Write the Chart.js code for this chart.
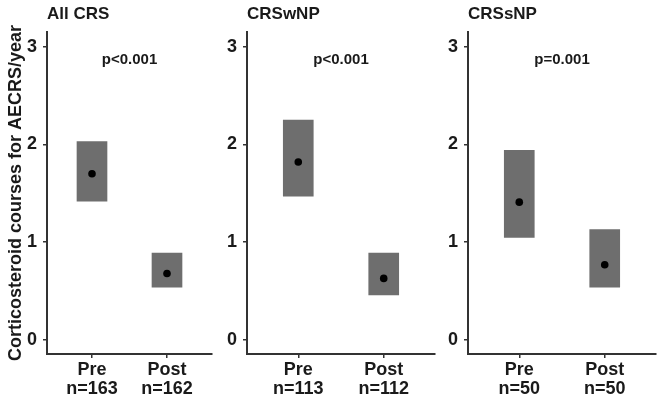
<!DOCTYPE html>
<html>
<head>
<meta charset="utf-8">
<script src="https://cdn.jsdelivr.net/npm/chart.js@4.4.1/dist/chart.umd.min.js"></script>
<style>
  html, body { margin: 0; padding: 0; background: #fff; }
  #wrap { position: relative; width: 660px; height: 406px; overflow: hidden; }
  #wrap canvas { position: absolute; top: 0; }
</style>
</head>
<body>
<div id="wrap">
  <canvas id="panel0" width="216" height="406" style="left:0px"></canvas>
  <canvas id="panel1" width="219" height="406" style="left:220px"></canvas>
  <canvas id="panel2" width="219" height="406" style="left:441px"></canvas>
</div>
<script>
// --- data ---
const groups = ['All CRS', 'CRSwNP', 'CRSsNP'];
const periods = ['Pre', 'Post'];
const sampleSizes = [[163, 162], [113, 112], [50, 50]];
const meanValues = [[1.70, 0.68], [1.82, 0.63], [1.41, 0.77]];
const lowerValues = [[1.42, 0.54], [1.47, 0.46], [1.05, 0.54]];
const upperValues = [[2.03, 0.89], [2.25, 0.89], [1.94, 1.13]];
const pValues = ['p<0.001', 'p<0.001', 'p=0.001'];
const yTicks = [0, 1, 2, 3];
const yTitle = 'Corticosteroid courses for AECRS/year';

const FONT = "'Liberation Sans', Arial, sans-serif";
const INK = '#1a1a1a';
const AXIS = '#333333';

// y-axis widths per panel (the first one carries the axis title)
const axisWidths = [47, 27, 27];
const rightPads = [3, 3, 1];

const panelText = {
    id: 'panelText',
    afterDraw(chart, args, opts) {
        const ctx = chart.ctx;
        const area = chart.chartArea;
        ctx.save();
        ctx.fillStyle = INK;
        ctx.textBaseline = 'middle';
        ctx.font = 'bold 17px ' + FONT;
        ctx.textAlign = 'left';
        ctx.fillText(opts.title, area.left, 14);
        ctx.font = 'bold 15px ' + FONT;
        ctx.textAlign = 'center';
        ctx.fillText(opts.pText, (area.left + area.right) / 2, chart.scales.y.getPixelForValue(2.87));
        ctx.restore();
    }
};

groups.forEach((name, g) => {
    const ctx = document.getElementById('panel' + g);
    const ranges = periods.map((p, i) => ({ x: i + 1, y: [lowerValues[g][i], upperValues[g][i]] }));
    const means = periods.map((p, i) => ({ x: i + 1, y: meanValues[g][i] }));

    new Chart(ctx, {
        type: 'bar',
        data: {
            datasets: [
                {
                    type: 'scatter',
                    data: means,
                    backgroundColor: '#000',
                    borderColor: '#000',
                    pointRadius: 3.8,
                    borderWidth: 0,
                    order: 0
                },
                {
                    data: ranges,
                    backgroundColor: '#6e6e6e',
                    borderWidth: 0,
                    barThickness: 30,
                    order: 1
                }
            ]
        },
        options: {
            responsive: false,
            animation: false,
            devicePixelRatio: 1,
            layout: { padding: { top: 32, right: rightPads[g], bottom: 0, left: 0 } },
            plugins: {
                legend: { display: false },
                tooltip: { enabled: false },
                panelText: { title: name, pText: pValues[g] }
            },
            scales: {
                x: {
                    type: 'linear',
                    min: 0.4,
                    max: 2.6,
                    offset: false,
                    afterBuildTicks: s => { s.ticks = periods.map((p, i) => ({ value: i + 1 })); },
                    afterFit: s => { s.height = 52; },
                    ticks: {
                        callback: v => [periods[v - 1], 'n=' + sampleSizes[g][v - 1]],
                        color: INK,
                        font: { family: FONT, size: 18, weight: 'bold', lineHeight: 1.08 },
                        padding: 2,
                        maxRotation: 0,
                        autoSkip: false
                    },
                    grid: { display: true, offset: false, drawOnChartArea: false, drawTicks: true, tickLength: 4, color: AXIS, lineWidth: 1.5 },
                    border: { display: true, color: AXIS, width: 2 }
                },
                y: {
                    min: -0.143,
                    max: 3.15,
                    afterBuildTicks: s => { s.ticks = yTicks.map(v => ({ value: v })); },
                    afterFit: s => { s.width = axisWidths[g]; },
                    ticks: {
                        color: INK,
                        font: { family: FONT, size: 18, weight: 'bold' },
                        padding: 6
                    },
                    title: {
                        display: g === 0,
                        text: yTitle,
                        color: INK,
                        font: { family: FONT, size: 18, weight: 'bold' },
                        padding: { top: 5, bottom: 0 }
                    },
                    grid: { display: true, drawOnChartArea: false, drawTicks: true, tickLength: 4, color: AXIS, lineWidth: 1.5 },
                    border: { display: true, color: AXIS, width: 2 }
                }
            }
        },
        plugins: [panelText]
    });
});
</script>
</body>
</html>
